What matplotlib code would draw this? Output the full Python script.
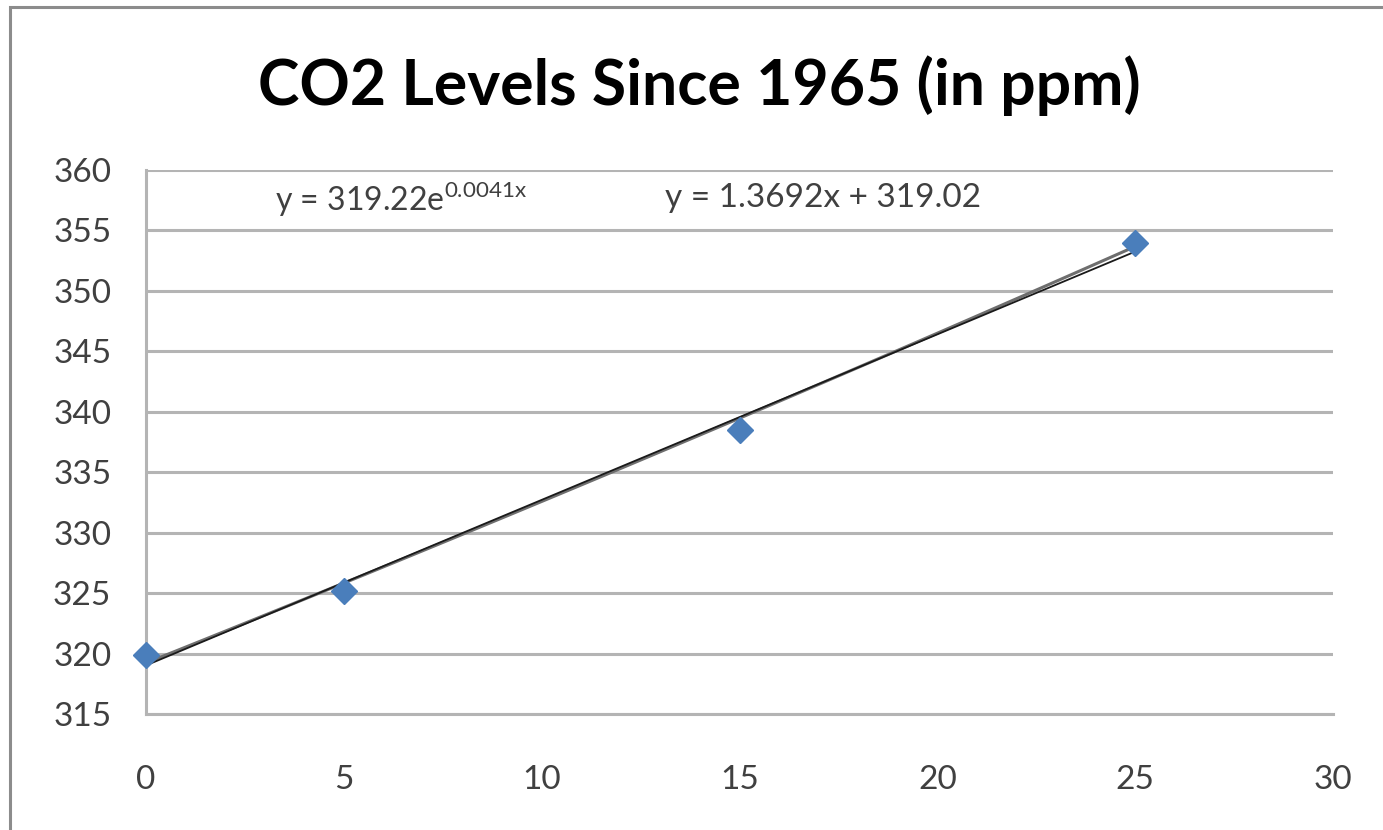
import numpy as np
import matplotlib.pyplot as plt
from matplotlib.patches import Rectangle

# datos del grafico
years = [0, 5, 15, 25]
co2 = [319.9, 325.2, 338.5, 354.0]

# coeficientes de las lineas de tendencia
exp_a, exp_b = 319.22, 0.0041
lin_m, lin_c = 1.3692, 319.02
exp_label = r'y = 319.22e$^{\mathregular{0.0041x}}$'
lin_label = 'y = 1.3692x + 319.02'

plt.rcParams['font.family'] = ['Lato', 'DejaVu Sans']

fig = plt.figure(figsize=(13.83, 8.3), dpi=100)
ax = fig.add_axes([146 / 1383, 1 - 714 / 830, (1333 - 146) / 1383, (714 - 170) / 830])

# marco exterior
fig.patches.append(Rectangle((10 / 1383, -0.2), 1.2, 1.2 - 7 / 830, transform=fig.transFigure,
                             fill=False, edgecolor='#8c8c8c', linewidth=2.2, clip_on=False))

xs = np.linspace(0, 25, 100)
ax.plot(xs, exp_a * np.exp(exp_b * xs), color='#6e6e6e', linewidth=2.2, zorder=3)
ax.plot(xs, lin_m * xs + lin_c, color='#1a1a1a', linewidth=1.3, zorder=4)
ax.plot(years, co2, linestyle='none', marker='D', markersize=13, color='#4a7ebb',
        zorder=5, clip_on=False)

ax.set_xlim(0, 30)
ax.set_ylim(315, 360)
ax.set_xticks(range(0, 31, 5))
ax.set_yticks(range(315, 361, 5))
ax.yaxis.grid(True, color='#b4b4b4', linewidth=2.2)
ax.set_axisbelow(True)
for s in ['top', 'right']:
    ax.spines[s].set_visible(False)
for s in ['left', 'bottom']:
    ax.spines[s].set_color('#b4b4b4')
    ax.spines[s].set_linewidth(2.2)
ax.tick_params(axis='both', length=0, labelsize=24, labelcolor='#404040')
ax.tick_params(axis='x', pad=37)
ax.tick_params(axis='y', pad=25)

ax.text(6.45, 357.6, exp_label, fontsize=23, color='#404040', ha='center', va='center')
ax.text(17.1, 357.7, lin_label, fontsize=24, color='#404040', ha='center', va='center')

fig.text(699 / 1383, 1 - 86 / 830, 'CO2 Levels Since 1965 (in ppm)', fontsize=45,
         fontweight='bold', ha='center', va='center', color='black')

fig.savefig('out.png', dpi=100)
